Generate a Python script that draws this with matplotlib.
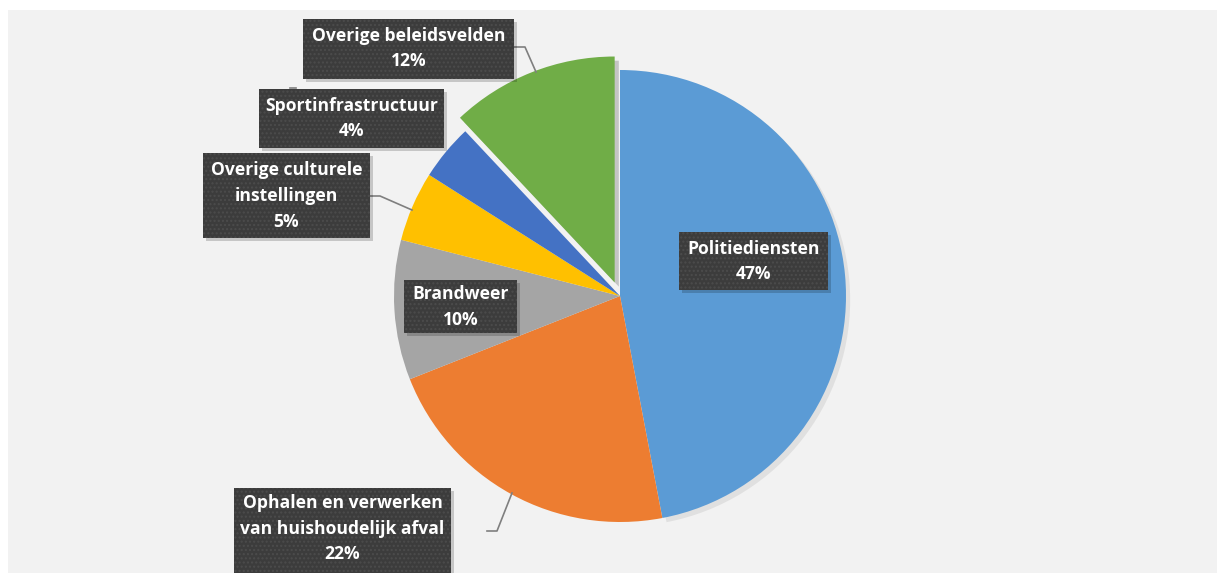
import matplotlib
matplotlib.use("Agg")
import matplotlib.pyplot as plt
from matplotlib.patches import Rectangle
import matplotlib.patheffects as pe

categories = ["Politiediensten", "Ophalen en verwerken\nvan huishoudelijk afval", "Brandweer",
              "Overige culturele\ninstellingen", "Sportinfrastructuur", "Overige beleidsvelden"]
values = [47, 22, 10, 5, 4, 12]
colors = ["#5B9BD5", "#ED7D31", "#A5A5A5", "#FFC000", "#4472C4", "#70AD47"]
explode = [0, 0, 0, 0, 0, 14.5]

W, H = 1217, 573
fig = plt.figure(figsize=(W / 100, H / 100), dpi=100)
fig.patch.set_facecolor("white")
ax = fig.add_axes([0, 0, 1, 1])

def Y(y):
    return H - y

# panel background
ax.add_patch(Rectangle((8, 0), W - 8, H - 10, facecolor="#F2F2F2", edgecolor="none", zorder=0))

wedges, _ = ax.pie(values, colors=colors, startangle=90, counterclock=False, explode=explode,
                   center=(620, Y(296)), radius=226, frame=True,
                   wedgeprops=dict(linewidth=0, zorder=2))
wedges[0].set_path_effects([pe.SimplePatchShadow(offset=(3, -3), alpha=0.12, shadow_rgbFace="#606060"),
                            pe.Normal()])
wedges[-1].set_path_effects([pe.SimplePatchShadow(offset=(3, -3), alpha=0.28, shadow_rgbFace="#505050"),
                             pe.Normal()])

ax.set_xlim(0, W)
ax.set_ylim(0, H)
ax.set_aspect("equal")
ax.axis("off")

# label boxes: (x0, y0, x1, y1) in pixel coords
boxes = [
    (679, 232, 828, 290),   # Politiedienten
    (234, 488, 451, 580),   # Ophalen
    (404, 280, 517, 333),   # Brandweer
    (203, 153, 370, 238),   # culturele
    (259, 89, 444, 148),    # Sport
    (303, 19, 514, 79),     # Overige beleidsvelden
]
text_y = [261.5, 528.5, 307, 196, 118.5, 48.5]

for cat, val, (x0, y0, x1, y1), ty in zip(categories, values, boxes, text_y):
    ax.add_patch(Rectangle((x0 + 3, Y(y1) - 3), x1 - x0, y1 - y0, facecolor="#000000",
                           alpha=0.18, edgecolor="none", zorder=4))
    ax.add_patch(Rectangle((x0, Y(y1)), x1 - x0, y1 - y0, facecolor="#3C3C3C",
                           edgecolor="#4C4C4C", linewidth=0, hatch="....", zorder=5))
    ax.text((x0 + x1) / 2, Y(ty), f"{cat}\n{val}%", ha="center", va="center", color="white",
            fontsize=12.6, fontweight="bold", family="Open Sans", linespacing=1.55, zorder=6)

# leader lines
leaders = [
    [(514, 47), (525, 47), (536, 72)],
    [(368, 196), (380, 196), (412, 210)],
    [(487, 531), (497, 531), (512, 493)],
    [(290, 88), (296, 88)],
]
for pts in leaders:
    ax.plot([p[0] for p in pts], [Y(p[1]) for p in pts], color="#7F7F7F", lw=1.2, zorder=3)

fig.savefig("out.png", dpi=100, facecolor="white")
